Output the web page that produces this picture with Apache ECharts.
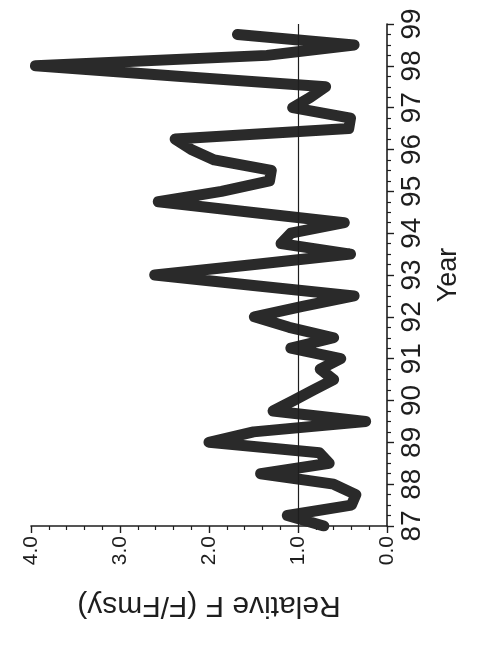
<!DOCTYPE html>
<html>
<head>
<meta charset="utf-8">
<script src="https://cdn.jsdelivr.net/npm/echarts@6/dist/echarts.min.js"></script>
<style>
  html, body { margin: 0; padding: 0; background: #ffffff; }
  #chart { width: 481px; height: 656px; }
</style>
</head>
<body>
<div id="chart"></div>
<script>
// Quarterly observations (year, relative F)
const years = [
  87.00, 87.25, 87.50, 87.75, 88.00, 88.25, 88.50, 88.75,
  89.00, 89.25, 89.50, 89.75, 90.00, 90.25, 90.50, 90.75,
  91.00, 91.25, 91.50, 91.75, 92.00, 92.25, 92.50, 92.75,
  93.00, 93.25, 93.50, 93.75, 94.00, 94.25, 94.50, 94.75,
  95.00, 95.25, 95.50, 95.75, 96.00, 96.25, 96.50, 96.75,
  97.00, 97.25, 97.50, 97.75, 98.00, 98.25, 98.50, 98.75
];
const relF = [
  0.71, 1.12, 0.40, 0.35, 0.60, 1.42, 0.65, 0.76,
  2.00, 1.50, 0.24, 1.28, 1.05, 0.83, 0.60, 0.75,
  0.52, 1.08, 0.60, 1.10, 1.49, 0.95, 0.37, 1.50,
  2.61, 1.49, 0.41, 1.19, 1.08, 0.48, 1.53, 2.57,
  1.86, 1.32, 1.30, 1.94, 2.20, 2.38, 0.43, 0.41,
  1.06, 0.86, 0.69, 2.35, 3.95, 1.35, 0.37, 1.68
];
const referenceF = [1.0];
const fTicks = [0, 1, 2, 3, 4];
const yearTicks = [87, 88, 89, 90, 91, 92, 93, 94, 95, 96, 97, 98, 99];

const seriesData = years.map((y, i) => [relF[i], y]);
const FONT = 'Liberation Sans, Arial, sans-serif';
const INK = '#1e1e1e';

const chart = echarts.init(document.getElementById('chart'), null, { renderer: 'canvas' });
chart.setOption({
  backgroundColor: '#ffffff',
  animation: false,
  grid: { left: 31, right: 94, top: 24, bottom: 130, containLabel: false },
  xAxis: {
    type: 'value',
    min: fTicks[0],
    max: fTicks[fTicks.length - 1],
    interval: 1,
    inverse: true,
    position: 'bottom',
    name: 'Relative F (F/Fmsy)',
    nameLocation: 'middle',
    nameRotate: 180,
    nameGap: 64,
    nameTextStyle: { fontFamily: FONT, fontSize: 30, color: INK },
    axisLine: { show: true, lineStyle: { color: INK, width: 1.6 } },
    axisTick: { show: true, inside: false, length: 7, lineStyle: { color: INK, width: 1.4 } },
    minorTick: { show: true, splitNumber: 5, length: 4, lineStyle: { color: INK, width: 1.2 } },
    splitLine: { show: false },
    axisLabel: {
      rotate: 90,
      margin: 10,
      fontFamily: FONT,
      fontSize: 21,
      color: INK,
      formatter: v => v.toFixed(1)
    }
  },
  yAxis: {
    type: 'value',
    min: yearTicks[0],
    max: yearTicks[yearTicks.length - 1],
    interval: 1,
    position: 'right',
    name: 'Year',
    nameLocation: 'middle',
    nameRotate: 90,
    nameGap: 48,
    nameTextStyle: { fontFamily: FONT, fontSize: 27, color: INK },
    axisLine: { show: true, lineStyle: { color: INK, width: 1.6 } },
    axisTick: { show: true, inside: false, length: 7, lineStyle: { color: INK, width: 1.4 } },
    minorTick: { show: true, splitNumber: 4, length: 4, lineStyle: { color: INK, width: 1.2 } },
    splitLine: { show: false },
    axisLabel: {
      rotate: 90,
      margin: 11,
      fontFamily: FONT,
      fontSize: 28,
      color: INK,
      formatter: v => String(v)
    }
  },
  series: [{
    type: 'line',
    data: seriesData,
    showSymbol: false,
    symbol: 'none',
    lineStyle: { color: '#2a2a2a', width: 11, cap: 'round', join: 'round' },
    markLine: {
      silent: true,
      symbol: ['none', 'none'],
      label: { show: false },
      lineStyle: { color: INK, width: 1.2, type: 'solid' },
      data: referenceF.map(v => ({ xAxis: v }))
    },
    z: 3
  }]
});
</script>
</body>
</html>
